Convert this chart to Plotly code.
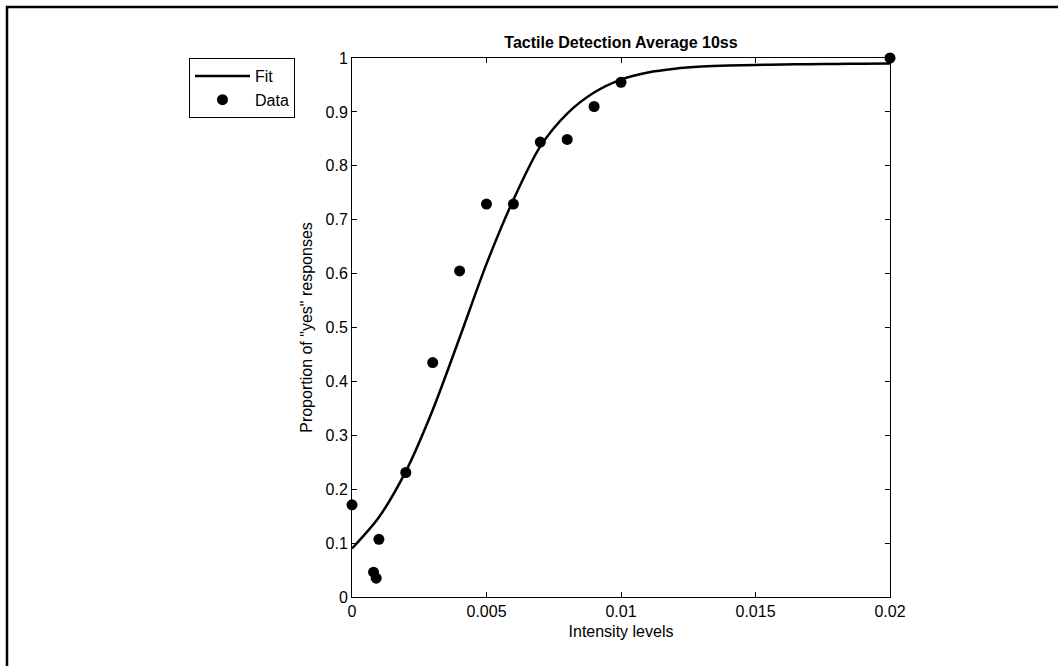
import plotly.graph_objects as go

# Data
data_x = [0.0, 0.0008, 0.0009, 0.001, 0.002, 0.003, 0.004, 0.005, 0.006, 0.007, 0.008, 0.009, 0.010, 0.020]
data_y = [0.171, 0.046, 0.035, 0.107, 0.231, 0.435, 0.605, 0.729, 0.729, 0.844, 0.849, 0.910, 0.955, 1.0]

# Fitted curve
fit_x = [0.0, 0.001, 0.002, 0.003, 0.004, 0.005, 0.006, 0.007, 0.008, 0.009, 0.010,
         0.011, 0.012, 0.013, 0.014, 0.015, 0.016, 0.017, 0.018, 0.019, 0.020]
fit_y = [0.090, 0.148, 0.233, 0.347, 0.481, 0.618, 0.737, 0.836, 0.897, 0.936, 0.960,
         0.973, 0.980, 0.984, 0.986, 0.987, 0.988, 0.9885, 0.989, 0.9895, 0.990]

x_ticks = [0, 0.005, 0.01, 0.015, 0.02]
x_tick_text = ["0", "0.005", "0.01", "0.015", "0.02"]
y_ticks = [0, 0.1, 0.2, 0.3, 0.4, 0.5, 0.6, 0.7, 0.8, 0.9, 1]
y_tick_text = ["0", "0.1", "0.2", "0.3", "0.4", "0.5", "0.6", "0.7", "0.8", "0.9", "1"]

FONT = "Liberation Sans, Arial, Helvetica, sans-serif"

fig = go.Figure()
fig.add_trace(go.Scatter(x=fit_x, y=fit_y, mode="lines", name="Fit",
                         line=dict(color="black", width=2.5, shape="spline", smoothing=0.8),
                         cliponaxis=False))
fig.add_trace(go.Scatter(x=data_x, y=data_y, mode="markers", name="Data",
                         marker=dict(color="black", size=11),
                         cliponaxis=False))

L, R, T, B = 352, 890, 58, 597
W, H = 1058, 666
pw, ph = R - L, B - T

axis_common = dict(showgrid=False, zeroline=False, showline=True, linecolor="black",
                   linewidth=1, mirror="ticks", ticks="inside", ticklen=5,
                   tickcolor="black", tickwidth=1,
                   tickfont=dict(family=FONT, size=16, color="black"))

fig.update_layout(
    width=W, height=H,
    margin=dict(l=L, r=W - R, t=T, b=H - B, autoexpand=False),
    paper_bgcolor="white", plot_bgcolor="white",
    font=dict(family=FONT, size=16, color="black"),
    title=dict(text="<b>Tactile Detection Average 10ss</b>", x=0.5, xref="paper",
               xanchor="center", y=1, yref="paper", yanchor="bottom",
               pad=dict(b=10), font=dict(family=FONT, size=16, color="black")),
    xaxis=dict(range=[0, 0.02], tickvals=x_ticks, ticktext=x_tick_text,
               title=dict(text="Intensity levels", standoff=6,
                          font=dict(family=FONT, size=16)),
               automargin=False, **axis_common),
    yaxis=dict(range=[0, 1], tickvals=y_ticks, ticktext=y_tick_text,
               title=dict(text='Proportion of "yes" responses', standoff=8,
                          font=dict(family=FONT, size=16)),
               automargin=False, **axis_common),
    legend=dict(x=(189 - L) / pw, y=1, xanchor="left", yanchor="top",
                xref="paper", yref="paper",
                bgcolor="white", bordercolor="black", borderwidth=1,
                font=dict(family=FONT, size=16, color="black"),
                itemwidth=55, tracegroupgap=0),
    showlegend=True,
)

# Figure frame
fig.add_shape(type="rect", xref="paper", yref="paper",
              x0=(7 - L) / pw, x1=(W + 5 - L) / pw,
              y0=(B - (H + 5)) / ph, y1=(B - 7) / ph,
              line=dict(color="black", width=2.5), fillcolor="rgba(0,0,0,0)",
              layer="below")

fig.write_html("out.html")
